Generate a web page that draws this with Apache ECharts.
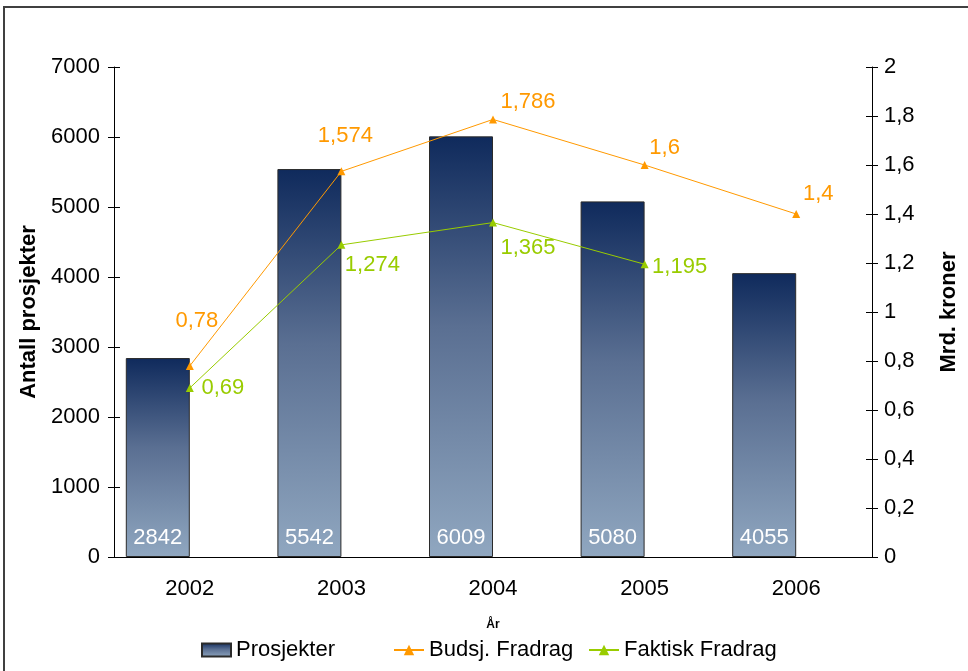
<!DOCTYPE html>
<html>
<head>
<meta charset="utf-8">
<script src="https://cdn.jsdelivr.net/npm/echarts@6/dist/echarts.min.js"></script>
<style>
  html, body { margin: 0; padding: 0; background: #fff; }
  #chart { width: 968px; height: 671px; }
</style>
</head>
<body>
<div id="chart"></div>
<script>
// data
const years = ['2002', '2003', '2004', '2005', '2006'];
const prosjekter = [2842, 5542, 6009, 5080, 4055];
const budsjFradrag = [0.78, 1.574, 1.786, 1.6, 1.4];
const faktiskFradrag = [0.69, 1.274, 1.365, 1.195, null];

// label shifts (px) so the labels sit where the original put them
const budsjShift = [[7, -45], [4, -35], [35, -17], [20, -17], [22, -20]];
const faktiskShift = [[33, 0], [31, 20], [35, 25], [35, 3], [0, 0]];

const font = 'Liberation Sans, Arial, sans-serif';
const comma = v => String(+(+v).toFixed(3)).replace('.', ',');

const barGradient = new echarts.graphic.LinearGradient(0, 0, 0, 1, [
  { offset: 0, color: '#0f2a5c' },
  { offset: 0.45, color: '#5a6f92' },
  { offset: 1, color: '#90a7c0' }
]);

const chart = echarts.init(document.getElementById('chart'));

const lineItems = (vals, shifts) => vals.map((v, i) => ({
  value: v,
  label: { offset: shifts[i] }
}));

const legendText = { fontSize: 22, color: '#000', fontFamily: font };

const option = {
  backgroundColor: '#fff',
  animation: false,
  textStyle: { fontFamily: font },
  graphic: [{
    type: 'rect',
    shape: { x: 4, y: 7, width: 1000, height: 700 },
    style: { fill: 'none', stroke: '#404040', lineWidth: 2 },
    silent: true
  }],
  grid: { left: 114, right: 95, top: 67, bottom: 114 },
  legend: [
    {
      data: [{ name: 'Prosjekter', icon: 'rect' }], left: 196, top: 634,
      itemWidth: 29, itemHeight: 13, textStyle: legendText
    },
    {
      data: ['Budsj. Fradrag'], left: 388, top: 634,
      itemWidth: 30, itemHeight: 13, textStyle: legendText
    },
    {
      data: ['Faktisk Fradrag'], left: 583, top: 634,
      itemWidth: 30, itemHeight: 13, textStyle: legendText
    }
  ],
  xAxis: [
    {
      type: 'category', data: years, position: 'bottom',
      name: 'År', nameLocation: 'middle', nameGap: 62,
      nameTextStyle: { fontSize: 12, fontWeight: 'bold', color: '#000' },
      axisLine: { lineStyle: { color: '#000', width: 1 } },
      axisTick: { length: 5, lineStyle: { color: '#000' } },
      axisLabel: { fontSize: 22, color: '#000', margin: 21 }
    },
    {
      type: 'category', data: years, position: 'bottom',
      axisLine: { show: false },
      axisTick: { inside: true, length: 5, lineStyle: { color: '#000' } },
      axisLabel: { show: false }
    }
  ],
  yAxis: [
    {
      type: 'value', min: 0, max: 7000, interval: 1000, position: 'left',
      name: 'Antall prosjekter', nameLocation: 'middle', nameGap: 72, nameRotate: 90,
      nameTextStyle: { fontSize: 22, fontWeight: 'bold', color: '#000' },
      axisLine: { show: true, lineStyle: { color: '#000' } },
      axisTick: { show: true, length: 6, lineStyle: { color: '#000' } },
      axisLabel: { fontSize: 22, color: '#000', margin: 14, formatter: v => String(v) },
      splitLine: { show: false }
    },
    {
      type: 'value', min: 0, max: 2, interval: 0.2, position: 'right',
      name: 'Mrd. kroner', nameLocation: 'middle', nameGap: 66, nameRotate: 90,
      nameTextStyle: { fontSize: 22, fontWeight: 'bold', color: '#000' },
      axisLine: { show: true, lineStyle: { color: '#000' } },
      axisTick: { show: true, length: 6, lineStyle: { color: '#000' } },
      axisLabel: { fontSize: 22, color: '#000', margin: 12, formatter: comma },
      splitLine: { show: false }
    },
    {
      type: 'value', min: 0, max: 7000, interval: 1000, position: 'left',
      axisLine: { show: false },
      axisTick: { show: true, inside: true, length: 6, lineStyle: { color: '#000' } },
      axisLabel: { show: false }, splitLine: { show: false }
    },
    {
      type: 'value', min: 0, max: 2, interval: 0.2, position: 'right',
      axisLine: { show: false },
      axisTick: { show: true, inside: true, length: 6, lineStyle: { color: '#000' } },
      axisLabel: { show: false }, splitLine: { show: false }
    }
  ],
  series: [
    {
      name: 'Prosjekter', type: 'bar', data: prosjekter, yAxisIndex: 0,
      barWidth: 64, barGap: '0%',
      itemStyle: { color: barGradient, borderColor: '#2b2b2b', borderWidth: 1 },
      label: {
        show: true, position: 'insideBottom', distance: 8,
        color: '#fff', fontSize: 22
      }
    },
    {
      // empty slot: in the original the bars sit left of the category centre
      name: '_slot', type: 'bar', data: [], yAxisIndex: 0,
      barWidth: 64, barGap: '0%', silent: true
    },
    {
      name: 'Budsj. Fradrag', type: 'line', yAxisIndex: 1,
      data: lineItems(budsjFradrag, budsjShift),
      symbol: 'triangle', symbolSize: 8,
      lineStyle: { color: '#ff9900', width: 1 },
      itemStyle: { color: '#ff9900' },
      label: {
        show: true, position: 'inside', color: '#ff9900', fontSize: 22,
        formatter: p => comma(p.value)
      }
    },
    {
      name: 'Faktisk Fradrag', type: 'line', yAxisIndex: 1,
      data: lineItems(faktiskFradrag, faktiskShift),
      symbol: 'triangle', symbolSize: 8,
      lineStyle: { color: '#99cc00', width: 1 },
      itemStyle: { color: '#99cc00' },
      label: {
        show: true, position: 'inside', color: '#99cc00', fontSize: 22,
        formatter: p => comma(p.value)
      }
    }
  ]
};

chart.setOption(option);
</script>
</body>
</html>
